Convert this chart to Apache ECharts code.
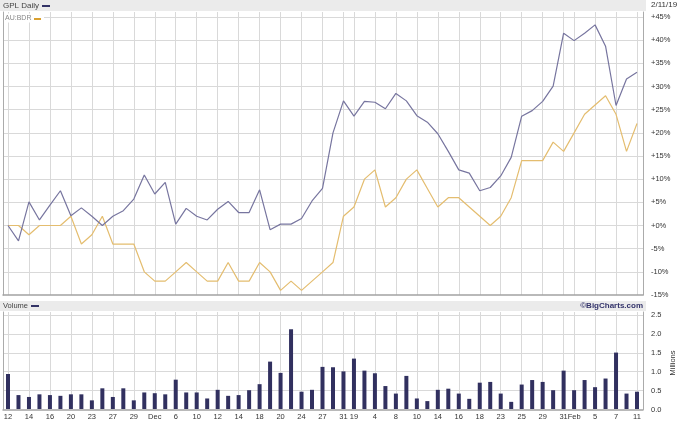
<!DOCTYPE html>
<html><head><meta charset="utf-8">
<script src="https://cdn.jsdelivr.net/npm/echarts/dist/echarts.min.js"></script>
<style>html,body{margin:0;padding:0;background:#fff}#c{width:680px;height:421px}</style>
</head><body><div id="c"></div>
<script>
// Trading days, 12 Nov 2018 – 11 Feb 2019
const dates = ['11/12','11/13','11/14','11/15','11/16','11/19','11/20','11/21','11/23','11/26',
  '11/27','11/28','11/29','11/30','12/3','12/4','12/6','12/7','12/10','12/11',
  '12/12','12/13','12/14','12/17','12/18','12/19','12/20','12/21','12/24','12/26',
  '12/27','12/28','12/31','1/2','1/3','1/4','1/7','1/8','1/9','1/10',
  '1/11','1/14','1/15','1/16','1/17','1/18','1/22','1/23','1/24','1/25',
  '1/28','1/29','1/30','1/31','2/1','2/4','2/5','2/6','2/7','2/8','2/11'];
const xTickLabels = ['12','','14','','16','','20','','23','',
  '27','','29','','Dec','','6','','10','',
  '12','','14','','18','','20','','24','',
  '27','','31','19','','4','','8','','10',
  '','14','','16','','18','','23','','25',
  '','29','','31','Feb','','5','','7','','11'];
// % change, GPL Daily
const gplPct = [0,-3.3,5.1,1.2,4.4,7.5,2.1,3.8,2.0,0.0,
  2.0,3.2,5.7,10.9,6.8,9.3,0.3,3.7,2.0,1.2,
  3.5,5.2,2.8,2.8,7.7,-0.9,0.3,0.3,1.5,5.3,
  8.0,20.0,26.9,23.6,26.8,26.6,25.2,28.5,26.9,23.7,
  22.3,19.8,16.0,12.0,11.3,7.5,8.2,10.7,14.7,23.6,
  24.8,26.8,30.1,41.5,39.9,41.5,43.3,38.7,25.9,31.6,33.1];
// % change, AU:BDR
const bdrPct = [0,0,-2,0,0,0,2,-4,-2,2,
  -4,-4,-4,-10,-12,-12,-10,-8,-10,-12,
  -12,-8,-12,-12,-8,-10,-14,-12,-14,-12,
  -10,-8,2,4,10,12,4,6,10,12,
  8,4,6,6,4,2,0,2,6,14,
  14,14,18,16,20,24,26,28,24,16,22];
// Volume, millions
const volumeM = [0.93,0.37,0.32,0.39,0.37,0.35,0.39,0.39,0.23,0.55,
  0.32,0.55,0.23,0.44,0.42,0.39,0.78,0.44,0.44,0.28,
  0.51,0.35,0.37,0.50,0.66,1.26,0.96,2.12,0.46,0.51,
  1.12,1.11,1.00,1.34,1.02,0.95,0.61,0.41,0.88,0.28,
  0.21,0.51,0.54,0.41,0.27,0.70,0.72,0.41,0.19,0.65,
  0.77,0.72,0.50,1.02,0.50,0.77,0.58,0.81,1.50,0.41,0.46];

const FONT = '"Liberation Sans", Arial, sans-serif';
const GRID_C = '#d9d9d9';
const FRAME_C = '#ababab';
const PCT_MIN = -15, PCT_MAX = 46.08, PCT_STEP = 5;
const VOL_MIN = 0, VOL_MAX = 2.579, VOL_STEP = 0.5;

const isMult = (v, s) => Math.abs(v / s - Math.round(v / s)) < 1e-6;
const pctFmt = v => isMult(v, 5) ? ((v >= 0 ? '+' : '') + Math.round(v) + '%') : '';
const volFmt = v => isMult(v, 0.5) ? v.toFixed(1) : '';
const showIdx = (i) => xTickLabels[i] !== '';

const chart = echarts.init(document.getElementById('c'));
const frameX = (g) => ({gridIndex: g, type: 'value', min: 0, max: 1,
  axisLine: {show: true, onZero: false, lineStyle: {color: '#a3a3a3', width: 1.5}},
  axisTick: {show: false}, axisLabel: {show: false}, splitLine: {show: false}});
const dataX = (g, labels) => ({gridIndex: g, type: 'category', data: dates, boundaryGap: false,
  axisLine: {show: false}, axisTick: {show: false},
  axisLabel: labels ? {show: true, interval: (i) => showIdx(i), formatter: (v, i) => xTickLabels[i],
    fontFamily: FONT, fontSize: 7.5, color: '#333', margin: 4, hideOverlap: false} : {show: false},
  splitLine: {show: true, interval: (i) => showIdx(i), lineStyle: {color: GRID_C, width: 1}}});
const rightY = (g, min, max, step, fmt) => ({gridIndex: g, type: 'value', position: 'right', min, max, interval: step,
  axisLine: {show: true, onZero: false, lineStyle: {color: FRAME_C, width: 1}}, axisTick: {show: false},
  axisLabel: {formatter: fmt, fontFamily: FONT, fontSize: 7.5, color: '#333', margin: 8, showMaxLabel: false},
  splitLine: {show: true, showMaxLine: false, showMinLine: false, lineStyle: {color: GRID_C, width: 1}}});
const leftY = (g, min, max) => ({gridIndex: g, type: 'value', position: 'left', min, max,
  axisLine: {show: true, onZero: false, lineStyle: {color: FRAME_C, width: 1}}, axisTick: {show: false},
  axisLabel: {show: false}, splitLine: {show: false}});
const hiddenY = (g, min, max) => ({gridIndex: g, type: 'value', min, max, show: false});

const txt = (x, y, text, extra) => ({type: 'text', left: x, top: y, silent: true, z: 60,
  style: Object.assign({text, font: '8px ' + FONT, fill: '#444'}, extra || {})});

chart.setOption({
  animation: false,
  backgroundColor: '#ffffff',
  grid: [
    {left: 3, right: 37, top: 12, bottom: 126},
    {left: 8, right: 43, top: 12, bottom: 126},
    {left: 3, right: 37, top: 312, bottom: 11.5},
    {left: 8, right: 43, top: 312, bottom: 11.5}
  ],
  xAxis: [frameX(0), dataX(1, false), frameX(2), dataX(3, true)],
  yAxis: [
    rightY(0, PCT_MIN, PCT_MAX, PCT_STEP, pctFmt),
    leftY(0, PCT_MIN, PCT_MAX),
    hiddenY(1, PCT_MIN, PCT_MAX),
    rightY(2, VOL_MIN, VOL_MAX, VOL_STEP, volFmt),
    leftY(2, VOL_MIN, VOL_MAX),
    hiddenY(3, VOL_MIN, VOL_MAX)
  ],
  series: [
    {name: 'AU:BDR', type: 'line', xAxisIndex: 1, yAxisIndex: 2, data: bdrPct, showSymbol: false,
      lineStyle: {color: '#e4bd6f', width: 1.2}, z: 3},
    {name: 'GPL Daily', type: 'line', xAxisIndex: 1, yAxisIndex: 2, data: gplPct, showSymbol: false,
      lineStyle: {color: '#77759f', width: 1.2}, z: 4},
    {name: 'Volume', type: 'bar', xAxisIndex: 3, yAxisIndex: 5, data: volumeM, barWidth: 4,
      itemStyle: {color: '#31305f'}}
  ],
  graphic: [
    {type: 'rect', left: 0, top: 0, shape: {width: 646, height: 11}, style: {fill: '#ebebeb'}, silent: true, z: 50},
    txt(3, 2, 'GPL Daily'),
    {type: 'rect', left: 42, top: 5, shape: {width: 8, height: 2}, style: {fill: '#333366'}, silent: true, z: 60},
    txt(651, 1, '2/11/19', {fill: '#333'}),
    {type: 'rect', left: 4, top: 13.5, shape: {width: 40, height: 9}, style: {fill: '#ffffff'}, silent: true, z: 55},
    txt(5, 14.5, 'AU:BDR', {fill: '#888', font: '7px ' + FONT}),
    {type: 'rect', left: 34, top: 18, shape: {width: 7, height: 2}, style: {fill: '#d9a030'}, silent: true, z: 60},
    {type: 'rect', left: 0, top: 301, shape: {width: 646, height: 10}, style: {fill: '#ebebeb'}, silent: true, z: 50},
    txt(3, 302, 'Volume', {font: '7.5px ' + FONT}),
    {type: 'rect', left: 31, top: 305, shape: {width: 8, height: 2}, style: {fill: '#333366'}, silent: true, z: 60},
    {type: 'text', right: 37, top: 302, silent: true, z: 60,
      style: {text: '\u00a9BigCharts.com', font: 'bold 8px ' + FONT, fill: '#33336a'}},
    {type: 'text', x: 673, y: 363, rotation: Math.PI / 2, silent: true, z: 60,
      style: {text: 'Millions', font: '7.5px ' + FONT, fill: '#333', align: 'center', verticalAlign: 'middle'}}
  ]
});
</script>
</body></html>
